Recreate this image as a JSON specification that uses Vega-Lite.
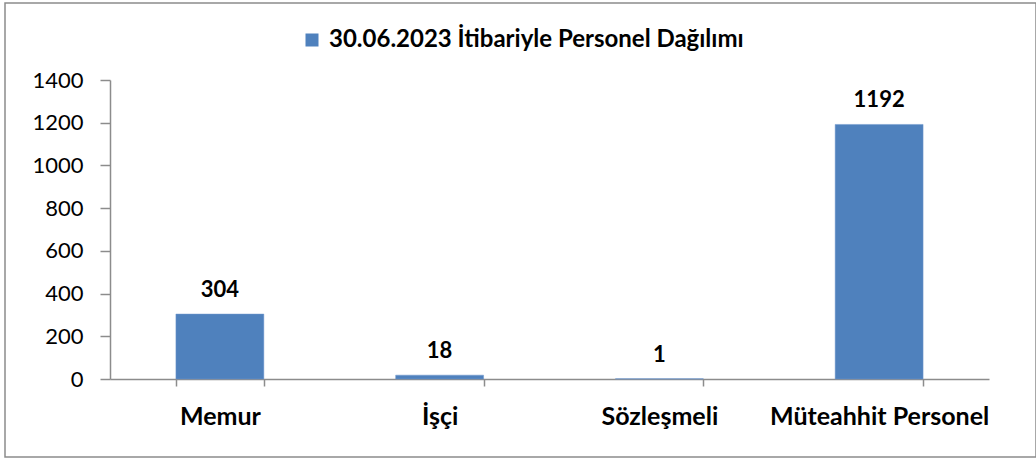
{
  "$schema": "https://vega.github.io/schema/vega-lite/v6.json",
  "width": 1031,
  "height": 454,
  "autosize": {"type": "none"},
  "padding": {"left": 5, "top": 3, "right": 0, "bottom": 6},
  "background": "white",
  "config": {
    "view": {"stroke": "#8c8c8c", "strokeWidth": 1.5},
    "font": "Lato"
  },
  "data": {
    "values": [
      {"kategori": "Memur", "sayi": 304, "seri": "30.06.2023 İtibariyle Personel Dağılımı"},
      {"kategori": "İşçi", "sayi": 18, "seri": "30.06.2023 İtibariyle Personel Dağılımı"},
      {"kategori": "Sözleşmeli", "sayi": 1, "seri": "30.06.2023 İtibariyle Personel Dağılımı"},
      {"kategori": "Müteahhit Personel", "sayi": 1192, "seri": "30.06.2023 İtibariyle Personel Dağılımı"}
    ]
  },
  "encoding": {
    "x": {
      "field": "kategori",
      "type": "nominal",
      "sort": null,
      "scale": {"range": [105, 984], "paddingInner": 0.6, "paddingOuter": 0.3},
      "axis": {
        "title": null,
        "offset": -78,
        "labelAngle": 0,
        "labelFont": "Lato",
        "labelFontSize": 25,
        "labelFontWeight": "bold",
        "labelColor": "#000000",
        "labelPadding": 18,
        "labelBaseline": "top",
        "labelLimit": 0,
        "tickBand": "extent",
        "tickSize": 7,
        "tickColor": "#8c8c8c",
        "domainColor": "#8c8c8c",
        "domainWidth": 1.5,
        "tickWidth": 1.5
      }
    },
    "y": {
      "field": "sayi",
      "type": "quantitative",
      "scale": {"domain": [0, 1400], "range": [376, 77], "nice": false},
      "axis": {
        "title": null,
        "offset": -105,
        "values": [0, 200, 400, 600, 800, 1000, 1200, 1400],
        "format": "d",
        "grid": false,
        "labelFont": "Lato",
        "labelFontSize": 22,
        "labelColor": "#000000",
        "labelPadding": 17,
        "tickSize": 10,
        "tickColor": "#8c8c8c",
        "domainColor": "#8c8c8c",
        "domainWidth": 1.5,
        "tickWidth": 1.5
      }
    }
  },
  "layer": [
    {
      "mark": {"type": "bar", "stroke": "#6f97cc", "strokeWidth": 0.5},
      "encoding": {
        "fill": {
          "field": "seri",
          "type": "nominal",
          "scale": {"range": ["#4F81BD"]},
          "legend": {
            "title": null,
            "orient": "none",
            "legendX": 295,
            "legendY": 25,
            "symbolType": "square",
            "symbolSize": 169,
            "symbolStrokeWidth": 0,
            "labelFont": "Lato",
            "labelFontSize": 24,
            "labelFontWeight": "bold",
            "labelColor": "#000000",
            "labelLimit": 0,
            "labelOffset": 5
          }
        }
      }
    },
    {
      "mark": {"type": "text", "font": "Lato", "fontSize": 22, "fontWeight": "bold", "color": "#000000", "baseline": "alphabetic", "dy": -17},
      "encoding": {"text": {"field": "sayi", "type": "quantitative"}}
    }
  ]
}
